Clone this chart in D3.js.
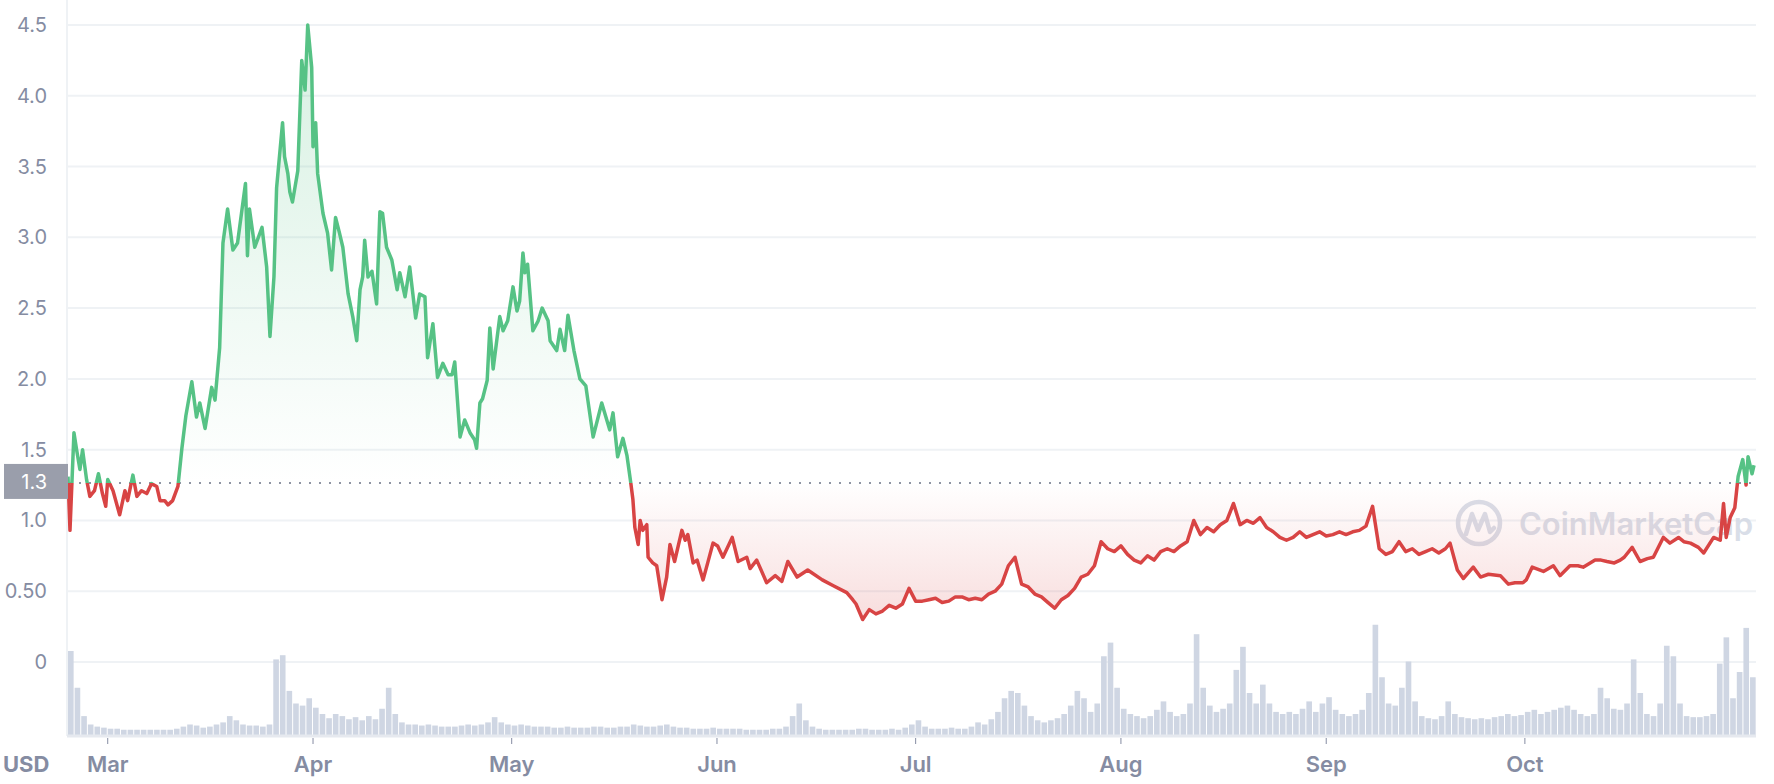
<!DOCTYPE html>
<html>
<head>
<meta charset="utf-8">
<script src="https://cdn.jsdelivr.net/npm/d3@7/dist/d3.min.js"></script>
<style>
  html, body { margin: 0; padding: 0; background: #fff; }
  svg { display: block; }
</style>
</head>
<body>
<svg id="chart" width="1774" height="784"></svg>
<script>
// ---------------- DATA ----------------
const startDay = "2023-02-23";           // day 0 of the series
// price observations: time in days since startDay, price in USD
const obsDay = [
  0,0.3,0.9,1.3,1.8,2.2,2.8,3.3,4.0,4.6,5.2,5.7,6.0,6.8,7.8,8.6,9.0,9.8,10.4,11.1,
  11.9,12.6,13.4,13.9,14.6,15.1,15.8,16.6,17.2,17.8,18.7,19.4,19.9,20.7,21.7,22.2,22.9,23.4,24.1,24.9,
  25.6,26.2,26.8,27.1,27.4,28.2,29.3,30.0,30.5,31.1,31.5,32.4,32.7,33.2,33.5,33.9,34.7,35.3,35.8,36.2,
  36.8,37.0,37.4,37.7,38.5,39.2,39.8,40.4,41.0,41.5,42.3,43.0,43.6,44.1,44.5,44.8,45.3,45.9,46.6,47.1,
  47.5,48.1,48.9,49.7,50.1,50.9,51.6,52.5,53.1,53.9,54.3,55.1,55.8,56.6,57.4,58.0,58.4,59.2,59.9,60.7,
  61.4,61.7,62.2,62.6,63.3,63.7,64.2,65.2,65.7,66.4,67.2,67.8,68.2,68.7,69.0,69.4,70.2,71.0,71.6,72.5,
  72.8,73.8,74.3,75.0,75.5,76.4,77.3,78.2,78.5,79.3,80.6,81.8,82.3,83.0,83.8,84.4,85.0,85.3,85.6,86.1,
  86.4,86.8,87.4,87.6,88.3,88.9,89.7,90.4,90.9,91.6,92.7,93.2,93.6,94.4,95.0,95.9,96.6,97.4,98.1,98.9,
  100.3,101.2,102.5,103.0,104.0,105.5,106.8,107.8,108.7,110.1,111.7,113.9,115.5,117.6,118.5,
  119,120,121,122,123,124,125,126,127,128,129,130,131,132,133,134,135,136,137,138,
  139,140,141,142,143,144,145,146,147,148,149,150,151,152,153,154,155,156,157,158,
  159,160,161,162,163,164,165,166,167,168,169,170,171,172,173,174,175,176,177,178,
  179,180,181,182,183,184,185,186,187,188,189,190,191,192,193,194,195,196,197,198,
  199,200,201,202,203,204,205,206,207,208,
  208.7,209.8,210.7,212.2,213.3,214.5,216.3,217.5,218.5,219.7,220.2,221.1,222.8,224.3,225.3,226.8,228.0,228.8,230.6,231.5,
  232.4,233.5,234.4,235.0,236.2,237.4,238.5,239.4,240.9,241.9,243.2,244.0,245.0,246.2,247.0,248.5,249.5,250.0,250.4,251.0,
  251.7,252.2,252.9,253.4,253.7,254.3,254.6
];
const obsPrice = [
  1.31,0.93,1.62,1.50,1.36,1.50,1.29,1.17,1.21,1.33,1.19,1.10,1.29,1.21,1.04,1.21,1.14,1.32,1.17,1.21,
  1.19,1.26,1.24,1.14,1.14,1.11,1.14,1.24,1.51,1.74,1.98,1.73,1.83,1.65,1.94,1.85,2.22,2.96,3.20,2.91,
  2.96,3.17,3.38,2.87,3.20,2.93,3.07,2.79,2.30,2.72,3.35,3.81,3.57,3.45,3.32,3.25,3.47,4.25,4.04,4.50,
  4.20,3.64,3.81,3.45,3.17,3.03,2.77,3.14,3.03,2.93,2.60,2.44,2.27,2.63,2.72,2.98,2.72,2.76,2.53,3.18,
  3.17,2.93,2.84,2.63,2.75,2.58,2.79,2.43,2.60,2.58,2.15,2.39,2.01,2.11,2.03,2.03,2.12,1.59,1.71,1.62,
  1.57,1.51,1.83,1.86,1.99,2.36,2.07,2.44,2.34,2.41,2.65,2.48,2.55,2.89,2.75,2.81,2.34,2.41,2.50,2.41,
  2.27,2.20,2.35,2.20,2.45,2.20,2.00,1.95,1.85,1.59,1.83,1.64,1.76,1.45,1.58,1.46,1.26,1.15,0.95,0.83,
  1.00,0.93,0.97,0.74,0.70,0.68,0.44,0.60,0.83,0.71,0.93,0.86,0.90,0.70,0.72,0.58,0.70,0.84,0.82,0.74,
  0.88,0.71,0.74,0.66,0.72,0.56,0.61,0.57,0.71,0.60,0.65,0.58,0.54,0.49,0.44,
  0.41,0.30,0.37,0.34,0.36,0.40,0.38,0.41,0.52,0.43,0.43,0.44,0.45,0.42,0.43,0.46,0.46,0.44,0.45,0.44,
  0.48,0.50,0.55,0.68,0.74,0.55,0.53,0.48,0.46,0.42,0.38,0.44,0.47,0.52,0.60,0.62,0.68,0.85,0.80,0.78,
  0.82,0.76,0.72,0.70,0.75,0.72,0.78,0.80,0.78,0.82,0.85,1.00,0.90,0.95,0.92,0.97,1.00,1.12,0.97,1.00,
  0.98,1.02,0.95,0.92,0.88,0.86,0.88,0.92,0.88,0.90,0.92,0.89,0.90,0.92,0.90,0.92,0.93,0.96,1.10,0.80,
  0.76,0.78,0.85,0.78,0.80,0.76,0.78,0.80,0.77,0.80,
  0.84,0.65,0.59,0.67,0.60,0.62,0.61,0.55,0.56,0.56,0.58,0.67,0.64,0.68,0.61,0.68,0.68,0.67,0.72,0.72,
  0.71,0.70,0.72,0.74,0.81,0.71,0.73,0.74,0.88,0.84,0.88,0.85,0.84,0.81,0.77,0.88,0.86,1.12,0.88,1.02,
  1.09,1.31,1.43,1.25,1.45,1.33,1.39
];
// daily traded volume (millions USD, approximate), one value per day from startDay
const volumes = [
  80,45,18,10,8,7,6,6,5,5,
  5,5,5,5,5,5,6,8,10,9,
  7,8,10,12,18,14,10,9,9,8,
  10,72,76,42,30,28,35,26,20,16,
  20,18,15,17,14,18,15,25,45,20,
  12,10,10,9,10,9,8,8,8,9,
  10,9,10,12,17,12,10,9,10,9,
  8,8,8,7,7,8,7,7,7,8,
  8,7,7,8,8,10,9,8,8,9,
  10,8,7,7,6,6,6,7,6,6,
  6,6,5,5,5,5,6,6,8,18,
  30,14,8,6,5,5,5,5,5,6,
  6,5,5,5,6,5,7,10,14,8,
  6,6,6,7,6,6,8,12,10,15,
  22,35,42,40,28,18,14,12,14,16,
  20,28,42,35,22,30,75,88,45,25,
  20,18,16,18,24,32,22,18,20,30,
  96,45,28,22,25,30,62,84,40,30,
  48,30,22,20,22,20,25,32,22,30,
  36,24,20,18,20,24,40,105,55,30,
  28,45,70,32,18,16,15,18,32,20,
  17,16,15,16,15,17,18,20,18,19,
  22,24,20,22,24,26,28,24,20,18,
  20,45,35,25,24,30,72,40,20,18,
  30,85,75,30,18,17,17,18,20,68,
  93,35,60,102,55
];
const referencePrice = 1.265;              // opening price (dotted line)
const referenceLabel = "1.3";
const yTickValues = [0, 0.5, 1.0, 1.5, 2.0, 2.5, 3.0, 3.5, 4.0, 4.5];
const yTickLabels = ["0", "0.50", "1.0", "1.5", "2.0", "2.5", "3.0", "3.5", "4.0", "4.5"];
const currencyLabel = "USD";
const watermarkText = "CoinMarketCap";

// ---------------- SETUP ----------------
const W = 1774, H = 784;
const svg = d3.select("#chart");
const parse = d3.timeParse("%Y-%m-%d");
const t0 = parse(startDay);
const toDate = dd => new Date(t0.getTime() + dd * 864e5);
const priceData = obsDay.map((dd, i) => ({ date: toDate(dd), price: obsPrice[i] }));
const volData = volumes.map((v, i) => ({ date: d3.timeDay.offset(t0, i), vol: v }));

const plotLeft = 67, plotRight = 1756;
const x = d3.scaleTime()
  .domain([t0, toDate(254.9)])
  .range([68, plotRight]);
const y = d3.scaleLinear().domain([0, 4.5]).range([662, 25]);
const yVol = d3.scaleLinear().domain([0, 100]).range([735, 630]);

const green = "#56c285", red = "#d84444";
const gridColor = "#eff2f5", textColor = "#858ca2";
const font = "Inter, 'Noto Sans', sans-serif";

const defs = svg.append("defs");
const baseY = y(referencePrice);

defs.append("clipPath").attr("id", "clipAbove")
  .append("rect").attr("x", 0).attr("y", 0).attr("width", W).attr("height", baseY);
defs.append("clipPath").attr("id", "clipBelow")
  .append("rect").attr("x", 0).attr("y", baseY).attr("width", W).attr("height", H - baseY);

const gGreen = defs.append("linearGradient").attr("id", "gradGreen")
  .attr("gradientUnits", "userSpaceOnUse")
  .attr("x1", 0).attr("x2", 0).attr("y1", y(4.5)).attr("y2", baseY);
gGreen.append("stop").attr("offset", "0%").attr("stop-color", green).attr("stop-opacity", 0.24);
gGreen.append("stop").attr("offset", "100%").attr("stop-color", green).attr("stop-opacity", 0.0);

const gRed = defs.append("linearGradient").attr("id", "gradRed")
  .attr("gradientUnits", "userSpaceOnUse")
  .attr("x1", 0).attr("x2", 0).attr("y1", baseY).attr("y2", y(0.3));
gRed.append("stop").attr("offset", "0%").attr("stop-color", red).attr("stop-opacity", 0.0);
gRed.append("stop").attr("offset", "100%").attr("stop-color", red).attr("stop-opacity", 0.18);

// ---------------- GRID ----------------
svg.append("g").selectAll("line").data(yTickValues).join("line")
  .attr("x1", plotLeft).attr("x2", plotRight)
  .attr("y1", d => y(d)).attr("y2", d => y(d))
  .attr("stroke", gridColor).attr("stroke-width", 2);

svg.append("line")
  .attr("x1", plotLeft).attr("x2", plotLeft).attr("y1", 0).attr("y2", 736)
  .attr("stroke", gridColor).attr("stroke-width", 2);

// y labels
svg.append("g").selectAll("text").data(yTickValues).join("text")
  .attr("x", 47).attr("y", d => y(d) + 7)
  .attr("text-anchor", "end")
  .attr("font-family", font).attr("font-size", 20)
  .attr("fill", textColor)
  .text((d, i) => yTickLabels[i]);

// ---------------- WATERMARK ----------------
const wm = svg.append("g").attr("opacity", 0.85);
wm.append("circle").attr("cx", 1479).attr("cy", 523).attr("r", 21)
  .attr("fill", "none").attr("stroke", "#d3d9e4").attr("stroke-width", 4.5);
wm.append("path")
  .attr("d", "M1466,534 L1472,514 L1478,530 L1485,514 L1490,532 L1494,528")
  .attr("fill", "none").attr("stroke", "#d3d9e4").attr("stroke-width", 4.5)
  .attr("stroke-linejoin", "round").attr("stroke-linecap", "round");
wm.append("text").attr("x", 1519).attr("y", 535)
  .attr("font-family", font).attr("font-size", 31).attr("font-weight", 600)
  .attr("fill", "#d3d9e4").text(watermarkText);

// ---------------- VOLUME ----------------
const dayW = x(volData[1].date) - x(volData[0].date);
svg.append("g").selectAll("rect").data(volData).join("rect")
  .attr("x", d => x(d.date))
  .attr("width", Math.max(1, dayW - 1))
  .attr("y", d => yVol(d.vol))
  .attr("height", d => yVol(0) - yVol(d.vol))
  .attr("fill", "#cfd6e3");

// bottom axis line
svg.append("line")
  .attr("x1", plotLeft).attr("x2", plotRight).attr("y1", 736).attr("y2", 736)
  .attr("stroke", "#e6e9ef").attr("stroke-width", 3);

// ---------------- PRICE AREAS & LINES ----------------
const area = d3.area().x(d => x(d.date)).y0(baseY).y1(d => y(d.price));
const line = d3.line().x(d => x(d.date)).y(d => y(d.price));

svg.append("path").datum(priceData).attr("d", area)
  .attr("fill", "url(#gradGreen)").attr("clip-path", "url(#clipAbove)");
svg.append("path").datum(priceData).attr("d", area)
  .attr("fill", "url(#gradRed)").attr("clip-path", "url(#clipBelow)");

// reference dotted line
svg.append("line")
  .attr("x1", plotLeft + 2).attr("x2", plotRight).attr("y1", baseY).attr("y2", baseY)
  .attr("stroke", "#8f95a3").attr("stroke-width", 2)
  .attr("stroke-dasharray", "2,8");

svg.append("path").datum(priceData).attr("d", line)
  .attr("fill", "none").attr("stroke", green).attr("stroke-width", 3.5)
  .attr("stroke-linejoin", "round").attr("clip-path", "url(#clipAbove)");
svg.append("path").datum(priceData).attr("d", line)
  .attr("fill", "none").attr("stroke", red).attr("stroke-width", 3.5)
  .attr("stroke-linejoin", "round").attr("clip-path", "url(#clipBelow)");

// reference label box
svg.append("rect").attr("x", 4).attr("y", baseY - 19).attr("width", 64).attr("height", 35)
  .attr("fill", "#9a9eab");
svg.append("text").attr("x", 47).attr("y", baseY + 6)
  .attr("text-anchor", "end").attr("font-family", font).attr("font-size", 20)
  .attr("fill", "#ffffff").text(referenceLabel);

// ---------------- X AXIS ----------------
const months = x.ticks(d3.timeMonth.every(1))
  .filter(d => x(d) > plotLeft + 5 && x(d) < plotRight - 60);
const fmt = d3.timeFormat("%b");
svg.append("g").selectAll("line").data(months).join("line")
  .attr("x1", d => x(d)).attr("x2", d => x(d)).attr("y1", 738).attr("y2", 744)
  .attr("stroke", "#858ca2").attr("stroke-width", 1);
svg.append("g").selectAll("text").data(months).join("text")
  .attr("x", d => x(d)).attr("y", 772)
  .attr("text-anchor", "middle")
  .attr("font-family", font).attr("font-size", 22).attr("font-weight", 600)
  .attr("fill", textColor).text(d => fmt(d));

svg.append("text").attr("x", 3).attr("y", 772)
  .attr("font-family", font).attr("font-size", 22).attr("font-weight", 700)
  .attr("fill", textColor).text(currencyLabel);
</script>
</body>
</html>
